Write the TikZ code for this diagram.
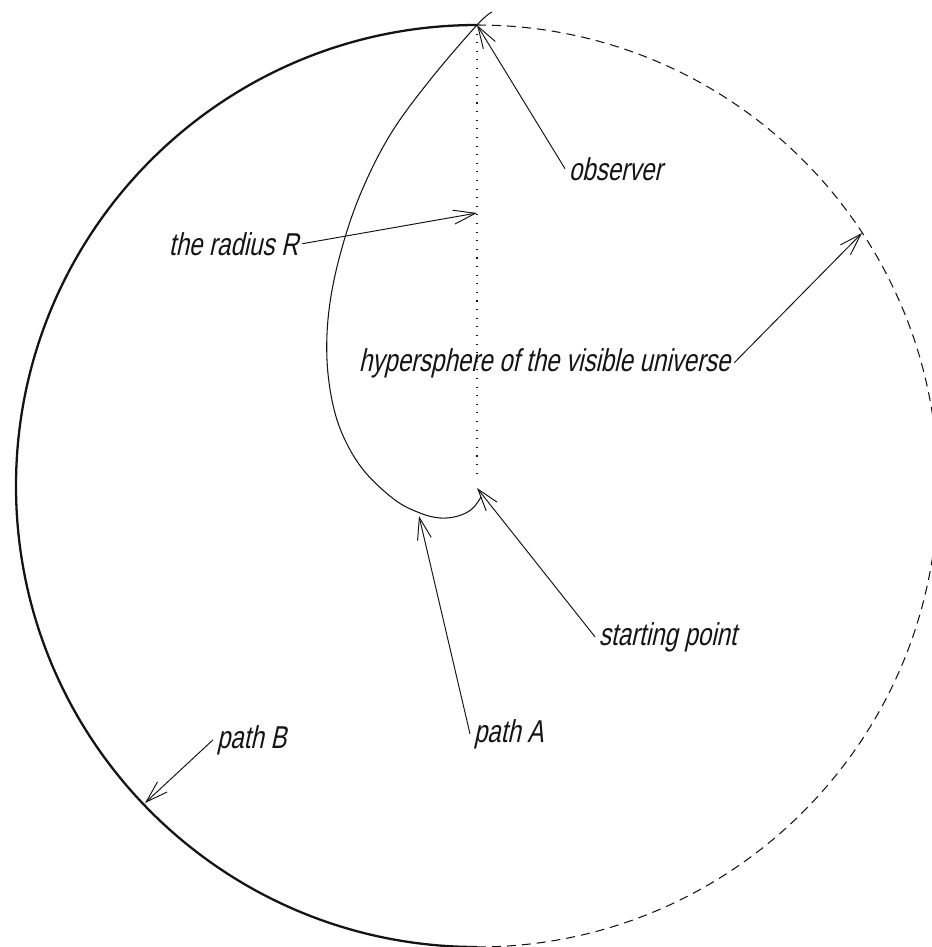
\documentclass[tikz,border=0pt]{standalone}
\usepackage{fontspec}
\usepackage{tikz}
\usetikzlibrary{positioning,calc}
\usetikzlibrary{arrows.meta}
\newfontfamily\cadfont[FakeStretch=0.76,FakeSlant=0.22]{Liberation Sans}
\definecolor{InkBlack}{RGB}{20,20,20}
\tikzset{
  lbl/.style={inner sep=2pt,font=\cadfont\fontsize{18}{20}\selectfont,text=InkBlack},
  ptr/.style={draw=InkBlack,line width=0.55pt,-{Straight Barb[length=4.4mm,width=2.8mm]}},
  rim/.style={draw=InkBlack,line width=1.3pt},
  rimdash/.style={draw=InkBlack,line width=0.6pt,dash pattern=on 0.18cm off 0.12cm},
}
\tikzset{pathA/.style={draw=InkBlack,line width=0.6pt},radius line/.style={draw=InkBlack,line width=0.7pt,dash pattern=on 0.6pt off 4.3pt}}

\begin{document}
\begin{tikzpicture}[x=0.02cm,y=-0.02cm]
\useasboundingbox (0,0) rectangle (931,947);
\coordinate (ctr) at (477,486);
\coordinate (obsp) at (477,25);
\coordinate (startp) at (477,488);
\coordinate (rtip) at (477,213);
\coordinate (htip) at (862,233);
\coordinate (atip) at (419,516);
\coordinate (btip) at (145,803);
% the two halves of the hypersphere
\draw[rim] (obsp) arc[start angle=270,end angle=90,radius=461];
\draw[rimdash] (obsp) arc[start angle=270,end angle=450,radius=461];
% radius from observer to the starting point
\draw[radius line] (obsp) -- (477,481);
% path A
\draw[pathA] plot[smooth,tension=0.6] coordinates {(481,497) (472,509) (458,516) (440,518) (420,513)
  (395,500) (365,472) (345,440) (333,405) (327,360) (329,310) (340,255) (360,195)
  (390,135) (430,80) (477,25) (492,12)};
\node[lbl,anchor=base west] (obs) at (565,180) {observer};
\node[lbl,anchor=base west] (rad) at (165,255) {the radius R};
\node[lbl,anchor=base west] (hyp) at (355,371) {hypersphere of the visible universe};
\node[lbl,anchor=base west] (start) at (595,645) {starting point};
\node[lbl,anchor=base west] (pA) at (470,742) {path A};
\node[lbl,anchor=base west] (pB) at (213,748) {path B};
\draw[ptr] (obs.west) -- (obsp);
\draw[ptr] (rad.east) -- (rtip);
\draw[ptr] (hyp.east) -- (htip);
\draw[ptr] (start.west) -- (startp);
\draw[ptr] (pA.west) -- (atip);
\draw[ptr] (pB.west) -- (btip);
\end{tikzpicture}
\end{document}
